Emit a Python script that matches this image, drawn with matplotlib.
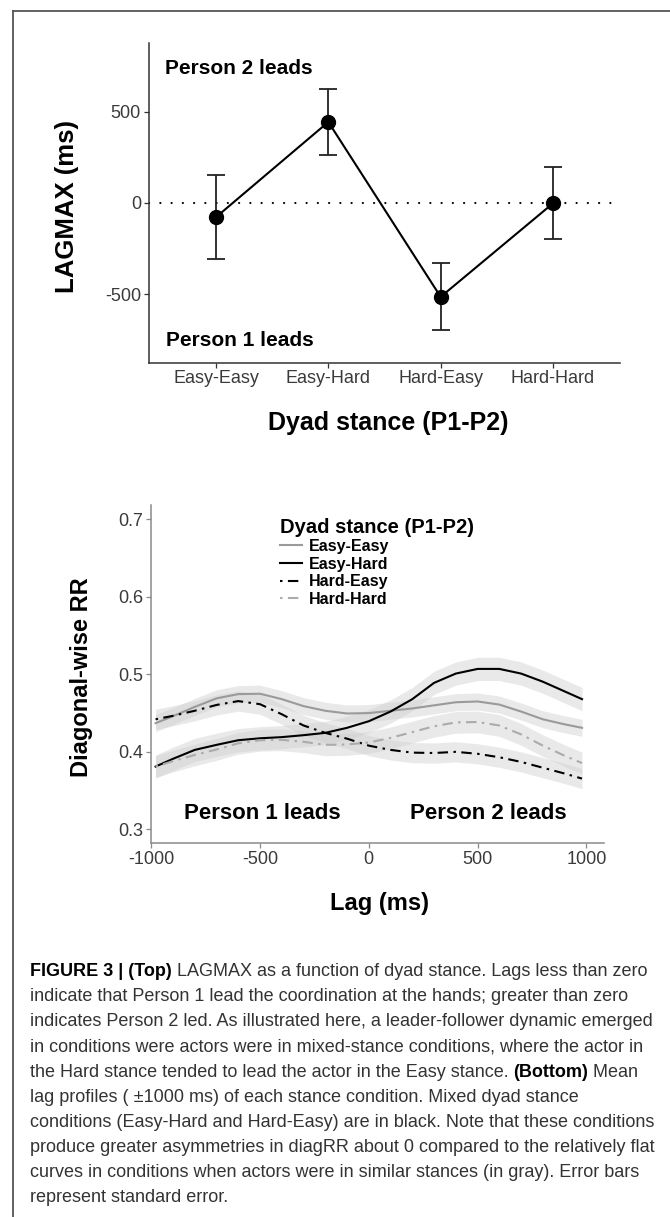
import numpy as np
import matplotlib
matplotlib.use("Agg")
import matplotlib.pyplot as plt
from matplotlib.lines import Line2D

plt.rcParams["font.family"] = ["Liberation Sans", "DejaVu Sans"]
plt.rcParams["axes.unicode_minus"] = False

# --- top panel data: mean LAGMAX per dyad stance, with standard error
stances = ["Easy-Easy", "Easy-Hard", "Hard-Easy", "Hard-Hard"]
lagmax = [-78, 444, -515, -2]
lagmax_se = [229, 181, 183, 198]

# --- bottom panel data: mean diagonal-wise RR lag profiles
lags = [-980, -900, -800, -700, -600, -500, -400, -300, -200, -100, 0,
        100, 200, 300, 400, 500, 600, 700, 800, 900, 980]
rr_easy_easy = [0.437, 0.446, 0.458, 0.469, 0.4745, 0.475, 0.468, 0.459, 0.453, 0.4495, 0.450,
                0.453, 0.456, 0.460, 0.464, 0.465, 0.461, 0.452, 0.442, 0.4355, 0.431]
rr_easy_hard = [0.381, 0.391, 0.4025, 0.409, 0.415, 0.4175, 0.419, 0.4215, 0.4245, 0.431, 0.4395,
                0.452, 0.468, 0.489, 0.501, 0.507, 0.507, 0.501, 0.4905, 0.478, 0.468]
rr_hard_easy = [0.442, 0.4465, 0.453, 0.4605, 0.4655, 0.4615, 0.4485, 0.434, 0.4245, 0.417, 0.408,
                0.4025, 0.399, 0.3985, 0.400, 0.3975, 0.393, 0.387, 0.3795, 0.372, 0.3655]
rr_hard_hard = [0.381, 0.388, 0.396, 0.403, 0.411, 0.415, 0.4155, 0.413, 0.409, 0.4095, 0.412,
                0.418, 0.4255, 0.433, 0.438, 0.4385, 0.434, 0.4225, 0.408, 0.395, 0.3855]
rr_se = [0.011, 0.015, 0.013, 0.014]

caption_lines = [
    ("FIGURE 3 | (Top)", " LAGMAX as a function of dyad stance. Lags less than zero"),
    ("", "indicate that Person 1 lead the coordination at the hands; greater than zero"),
    ("", "indicates Person 2 led. As illustrated here, a leader-follower dynamic emerged"),
    ("", "in conditions were actors were in mixed-stance conditions, where the actor in"),
    ("", "the Hard stance tended to lead the actor in the Easy stance. ", "(Bottom)", " Mean"),
    ("", "lag profiles ( \u00b11000 ms) of each stance condition. Mixed dyad stance"),
    ("", "conditions (Easy-Hard and Hard-Easy) are in black. Note that these conditions"),
    ("", "produce greater asymmetries in diagRR about 0 compared to the relatively flat"),
    ("", "curves in conditions when actors were in similar stances (in gray). Error bars"),
    ("", "represent standard error."),
]

W, H = 670, 1217
fig = plt.figure(figsize=(W / 100, H / 100), dpi=100)
fig.patch.set_facecolor("white")


def px_axes(left, top, right, bottom):
    return fig.add_axes([left / W, 1 - bottom / H, (right - left) / W, (bottom - top) / H])


def style_axes(ax, spine_color, tick_size):
    for side in ["top", "right"]:
        ax.spines[side].set_visible(False)
    for side in ["left", "bottom"]:
        ax.spines[side].set_color(spine_color)
        ax.spines[side].set_linewidth(1.1)
    ax.tick_params(direction="out", length=3.5, width=0.9, color=spine_color,
                   labelsize=tick_size, labelcolor="#3a3a3a", pad=2)


# frame around the figure
fig.add_artist(Line2D([13 / W, 13 / W], [0, 1 - 10.5 / H], transform=fig.transFigure,
                      color="#555555", lw=1.3))
fig.add_artist(Line2D([13 / W, 1], [1 - 10.5 / H, 1 - 10.5 / H], transform=fig.transFigure,
                      color="#555555", lw=1.3))

# ---------------- top panel
ax1 = px_axes(148.6, 43, 620.4, 362.7)
x = np.arange(len(stances))
ax1.axhline(0, color="black", lw=1.5, dashes=(0.1, 5.3), dash_capstyle="round")
ax1.errorbar(x, lagmax, yerr=lagmax_se, fmt="none", ecolor="#222222",
             elinewidth=1.3, capsize=6.5, capthick=1.3, zorder=3)
ax1.plot(x, lagmax, color="black", lw=1.5, marker="o", ms=10, zorder=4)
ax1.set_xlim(-0.6, 3.6)
ax1.set_ylim(-876, 877)
ax1.set_xticks(x, stances)
ax1.set_yticks([-500, 0, 500])
style_axes(ax1, "#333333", 13)
ax1.text(0.034, 0.921, "Person 2 leads", transform=ax1.transAxes, fontsize=15,
         weight="bold", va="center", ha="left")
ax1.text(0.036, 0.068, "Person 1 leads", transform=ax1.transAxes, fontsize=15,
         weight="bold", va="center", ha="left")
ax1.set_ylabel("LAGMAX (ms)", fontsize=18.5, weight="bold", va="center")
ax1.yaxis.set_label_coords(-0.173, 0.488)
ax1.set_xlabel("Dyad stance (P1-P2)", fontsize=18, weight="bold", va="center")
ax1.xaxis.set_label_coords(0.507, -0.189)

# ---------------- bottom panel
ax2 = px_axes(151, 505, 604, 843.3)
series = [
    ("Easy-Easy", rr_easy_easy, "#9a9a9a", "-"),
    ("Easy-Hard", rr_easy_hard, "black", "-"),
    ("Hard-Easy", rr_hard_easy, "black", (0, (1.2, 2.6, 5, 2.6))),
    ("Hard-Hard", rr_hard_hard, "#ababab", (0, (1.2, 2.6, 5, 2.6))),
]
for (name, vals, col, ls), se in zip(series, rr_se):
    vals = np.asarray(vals)
    ax2.fill_between(lags, vals - se, vals + se, color="#cfcfcf", alpha=0.45, lw=0)
for name, vals, col, ls in series:
    ax2.plot(lags, vals, color=col, lw=1.5, linestyle=ls, label=name)
ax2.set_xlim(-1001, 1081)
ax2.set_ylim(0.282, 0.7185)
ax2.set_xticks([-1000, -500, 0, 500, 1000])
ax2.set_yticks([0.3, 0.4, 0.5, 0.6, 0.7])
style_axes(ax2, "#8a8a8a", 13)
ax2.text(0.072, 0.088, "Person 1 leads", transform=ax2.transAxes, fontsize=16,
         weight="bold", va="center", ha="left")
ax2.text(0.572, 0.088, "Person 2 leads", transform=ax2.transAxes, fontsize=16,
         weight="bold", va="center", ha="left")
ax2.set_ylabel("Diagonal-wise RR", fontsize=17, weight="bold", va="center")
ax2.yaxis.set_label_coords(-0.1545, 0.492)
ax2.set_xlabel("Lag (ms)", fontsize=17, weight="bold", va="center")
ax2.xaxis.set_label_coords(0.5055, -0.1765)
leg = ax2.legend(loc="upper left", bbox_to_anchor=(0.285, 0.963), frameon=False,
                 title="Dyad stance (P1-P2)", alignment="left",
                 prop={"weight": "bold", "size": 11.5},
                 title_fontproperties={"weight": "bold", "size": 14.5},
                 handlelength=1.4, handletextpad=0.4, labelspacing=0.16,
                 borderpad=0, borderaxespad=0)

# ---------------- caption
y0 = 971.7
weights = ["bold", "normal", "bold", "normal"]
for i, parts in enumerate(caption_lines):
    yc = 1 - (y0 + i * 25.1) / H
    prev = None
    for seg, wt in zip(parts, weights):
        if not seg:
            continue
        col = "black" if wt == "bold" else "#333333"
        if prev is None:
            prev = fig.text(30 / W, yc, seg, fontsize=13, weight=wt, color=col,
                            va="center", ha="left")
        else:
            prev = ax1.annotate(seg, xy=(1, 0.5), xycoords=prev, fontsize=13,
                                weight=wt, color=col, va="center", ha="left",
                                annotation_clip=False)

fig.savefig("out.png", dpi=100)
